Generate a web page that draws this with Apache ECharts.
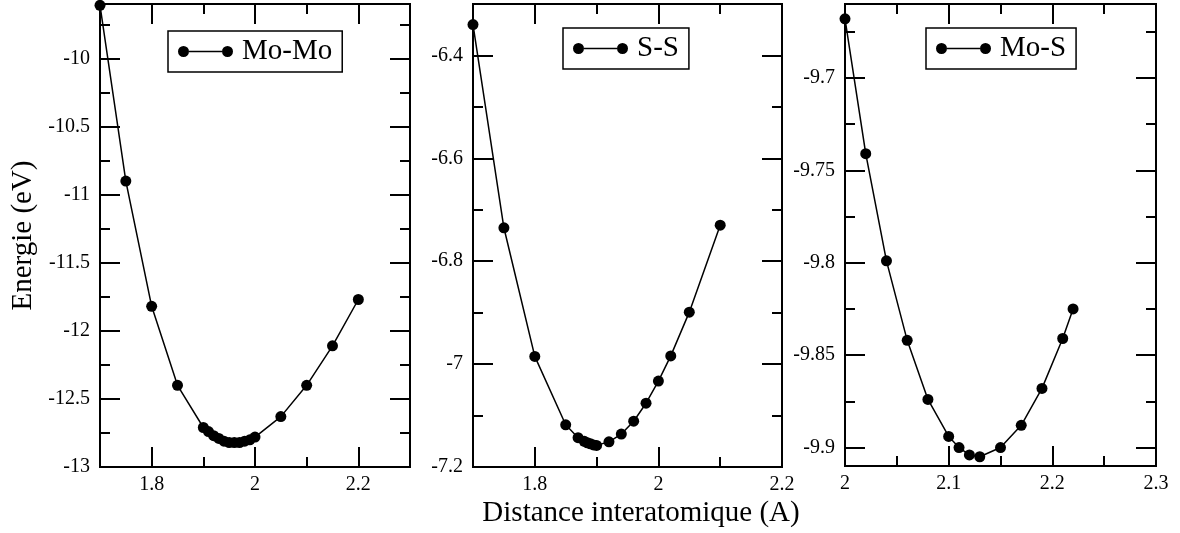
<!DOCTYPE html>
<html><head><meta charset="utf-8">
<script src="https://cdn.jsdelivr.net/npm/echarts@6/dist/echarts.min.js"></script>
<style>html,body{margin:0;padding:0;background:#fff}#c{width:1180px;height:533px}</style>
</head><body><div id="c"></div>
<script>
// ---- data ----
const moMoX = [1.70, 1.75, 1.80, 1.85, 1.90, 1.91, 1.92, 1.93, 1.94, 1.95, 1.96, 1.97, 1.98, 1.99, 2.00, 2.05, 2.10, 2.15, 2.20];
const moMoY = [-9.61, -10.90, -11.82, -12.40, -12.71, -12.74, -12.77, -12.79, -12.81, -12.82, -12.82, -12.82, -12.81, -12.80, -12.78, -12.63, -12.40, -12.11, -11.77];
const ssX = [1.70, 1.75, 1.80, 1.85, 1.87, 1.88, 1.885, 1.89, 1.895, 1.90, 1.92, 1.94, 1.96, 1.98, 2.00, 2.02, 2.05, 2.10];
const ssY = [-6.34, -6.735, -6.985, -7.118, -7.143, -7.150, -7.153, -7.155, -7.157, -7.158, -7.151, -7.136, -7.111, -7.076, -7.033, -6.984, -6.899, -6.730];
const moSX = [2.00, 2.02, 2.04, 2.06, 2.08, 2.10, 2.11, 2.12, 2.13, 2.15, 2.17, 2.19, 2.21, 2.22];
const moSY = [-9.668, -9.741, -9.799, -9.842, -9.874, -9.894, -9.900, -9.904, -9.905, -9.900, -9.888, -9.868, -9.841, -9.825];

const seriesNames = ['Mo-Mo', 'S-S', 'Mo-S'];

// tick values
const p1XMajor = [1.8, 2.0, 2.2], p1XMinor = [1.9, 2.1];
const p1YMajor = [-13, -12.5, -12, -11.5, -11, -10.5, -10];
const p1YMinor = [-12.75, -12.25, -11.75, -11.25, -10.75, -10.25, -9.75];
const p2XMajor = [1.8, 2.0, 2.2], p2XMinor = [1.9, 2.1];
const p2YMajor = [-7.2, -7.0, -6.8, -6.6, -6.4];
const p2YMinor = [-7.1, -6.9, -6.7, -6.5];
const p3XMajor = [2.0, 2.1, 2.2, 2.3], p3XMinor = [2.05, 2.15, 2.25];
const p3YMajor = [-9.9, -9.85, -9.8, -9.75, -9.7];
const p3YMinor = [-9.875, -9.825, -9.775, -9.725, -9.675];

const xTitle = 'Distance interatomique (A)';
const yTitle = 'Energie (eV)';

// ---- layout ----
const FONT = 'Liberation Serif';
const panels = [
  {grid:{left:100, top:4, width:310, height:463}, xr:[1.7, 2.3], yr:[-13, -9.6], xMa:p1XMajor, xMi:p1XMinor, yMa:p1YMajor, yMi:p1YMinor, xs:moMoX, ys:moMoY, leg:{left:168, top:31}},
  {grid:{left:473, top:4, width:309, height:463}, xr:[1.7, 2.2], yr:[-7.2, -6.3], xMa:p2XMajor, xMi:p2XMinor, yMa:p2YMajor, yMi:p2YMinor, xs:ssX, ys:ssY, leg:{left:563, top:28}},
  {grid:{left:845, top:4, width:311, height:462}, xr:[2.0, 2.3], yr:[-9.91, -9.66], xMa:p3XMajor, xMi:p3XMinor, yMa:p3YMajor, yMi:p3YMinor, xs:moSX, ys:moSY, leg:{left:926, top:28}}
];

const tickStyle = {color:'#000', width:2};
const labelStyle = {fontSize:20, fontFamily:FONT, color:'#000'};

function axesFor(g, dim, range, major, minor) {
  const pos = dim === 'x' ? ['bottom','top'] : ['left','right'];
  const base = {type:'value', gridIndex:g, min:range[0], max:range[1], splitLine:{show:false}, axisLine:{show:false, onZero:false}};
  return [
    Object.assign({}, base, {position:pos[0], axisTick:{inside:true, length:20, lineStyle:tickStyle, customValues:major}, axisLabel:Object.assign({customValues:major, margin:dim==='x'?8:10}, labelStyle)}),
    Object.assign({}, base, {position:pos[0], axisTick:{inside:true, length:10, lineStyle:tickStyle, customValues:minor}, axisLabel:{show:false}}),
    Object.assign({}, base, {position:pos[1], axisTick:{inside:true, length:20, lineStyle:tickStyle, customValues:major}, axisLabel:{show:false}}),
    Object.assign({}, base, {position:pos[1], axisTick:{inside:true, length:10, lineStyle:tickStyle, customValues:minor}, axisLabel:{show:false}})
  ];
}

const grids = [], xAxes = [], yAxes = [], series = [], legends = [];
const iconPath = 'path://M0,5.5A5.5,5.5 0 1,1 11,5.5A5.5,5.5 0 1,1 0,5.5Z M44,5.5A5.5,5.5 0 1,1 55,5.5A5.5,5.5 0 1,1 44,5.5Z M11,4.75L44,4.75L44,6.25L11,6.25Z';

panels.forEach((p, g) => {
  grids.push(Object.assign({show:true, borderColor:'#000', borderWidth:2, backgroundColor:'transparent'}, p.grid));
  xAxes.push(...axesFor(g, 'x', p.xr, p.xMa, p.xMi));
  yAxes.push(...axesFor(g, 'y', p.yr, p.yMa, p.yMi));
  series.push({
    type:'line', name:seriesNames[g], xAxisIndex:g*4, yAxisIndex:g*4,
    data:p.xs.map((x, i) => [x, p.ys[i]]),
    symbol:'circle', symbolSize:11, showSymbol:true, clip:false,
    lineStyle:{color:'#000', width:1.5}, itemStyle:{color:'#000'},
    emphasis:{disabled:true}, animation:false
  });
  legends.push({
    data:[seriesNames[g]], left:p.leg.left, top:p.leg.top, orient:'horizontal',
    borderColor:'#000', borderWidth:1.5, backgroundColor:'#fff', padding:[6,10,6,10],
    icon:iconPath, itemWidth:55, itemHeight:11, selectedMode:false,
    textStyle:{fontSize:29, fontFamily:FONT, color:'#000', padding:[0,0,0,4]}
  });
});

yAxes[0].name = yTitle;
yAxes[0].nameLocation = 'middle';
yAxes[0].nameGap = 62;
yAxes[0].nameTextStyle = {fontSize:29, fontFamily:FONT, color:'#000'};

const chart = echarts.init(document.getElementById('c'), null, {renderer:'canvas'});
chart.setOption({
  backgroundColor:'#fff',
  animation:false,
  grid:grids, xAxis:xAxes, yAxis:yAxes, series:series, legend:legends,
  graphic:[{type:'text', x:641, y:513, style:{text:xTitle, fontSize:29, fontFamily:FONT, fill:'#000', align:'center', verticalAlign:'middle', textAlign:'center', textVerticalAlign:'middle'}}]
});
</script>
</body></html>
